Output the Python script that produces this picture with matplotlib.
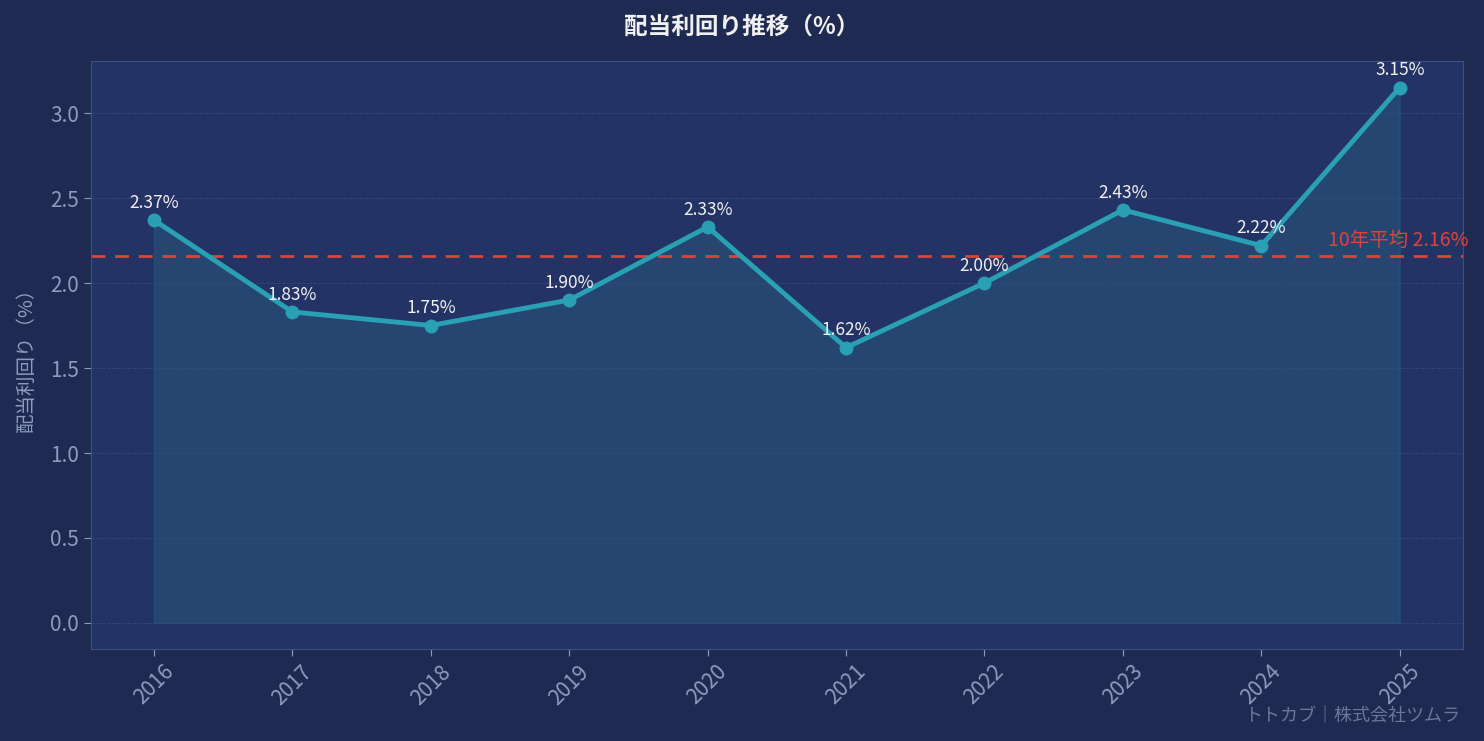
import matplotlib
matplotlib.use("Agg")
import matplotlib.pyplot as plt

# ---------- data ----------
years = ["2016", "2017", "2018", "2019", "2020", "2021", "2022", "2023", "2024", "2025"]
yields = [2.37, 1.83, 1.75, 1.90, 2.33, 1.62, 2.00, 2.43, 2.22, 3.15]
avg_yield = 2.16

# ---------- colors ----------
fig_bg = "#1e2a52"
ax_bg = "#243366"
line_c = "#2aa0b4"
red_c = "#d9453a"
tick_c = "#8c9bbf"
text_c = "#f0f0f0"

plt.rcParams['font.family'] = ['Noto Sans CJK JP', 'DejaVu Sans']

fig = plt.figure(figsize=(14.84, 7.41), dpi=100, facecolor=fig_bg)
ax = fig.add_axes([91 / 1484, 1 - 649 / 741, (1463 - 91) / 1484, (649 - 61) / 741])
ax.set_facecolor(ax_bg)

x = list(range(len(years)))
ax.fill_between(x, yields, 0, color="#2a6a8a", alpha=0.35, edgecolor="#2a6a8a", linewidth=1)
ax.plot(x, yields, color=line_c, linewidth=3.5, marker="o", markersize=9, zorder=3)
for xi, v in zip(x, yields):
    ax.annotate(f"{v:.2f}%", (xi, v), textcoords="offset points", xytext=(0, 6),
                ha="center", va="bottom", color=text_c, fontsize=12.5)

ax.axhline(avg_yield, color=red_c, linestyle="--", linewidth=2, dashes=(5, 3.5))
ax.text(9.5, avg_yield + 0.03, f"10年平均 {avg_yield:.2f}%", color=red_c,
        fontsize=14, ha="right", va="bottom")

ax.set_xlim(-0.455, 9.457)
ax.set_ylim(-0.153, 3.306)
ax.set_xticks(x)
ax.set_xticklabels(years, rotation=45, color=tick_c, fontsize=15)
ax.set_yticks([0, 0.5, 1.0, 1.5, 2.0, 2.5, 3.0])
ax.set_yticklabels([f"{t:.1f}" for t in [0, 0.5, 1.0, 1.5, 2.0, 2.5, 3.0]], color=tick_c, fontsize=15)
ax.tick_params(colors=tick_c, length=5)
ax.grid(axis="y", color="#3a4a7a", linestyle="--", linewidth=0.7, alpha=0.8)
for s in ax.spines.values():
    s.set_color("#3f4f80")

ax.set_ylabel("配当利回り（%）", color=tick_c, fontsize=14, labelpad=10)
fig.text(0.5, 1 - 27 / 741, "配当利回り推移（%）", color=text_c, fontsize=17,
         fontweight="bold", ha="center", va="center")
fig.text(1460 / 1484, 1 - 716 / 741, "トトカブ｜株式会社ツムラ", color="#6b7799",
         fontsize=13, ha="right", va="center")

fig.savefig("out.png", dpi=100, facecolor=fig_bg)
